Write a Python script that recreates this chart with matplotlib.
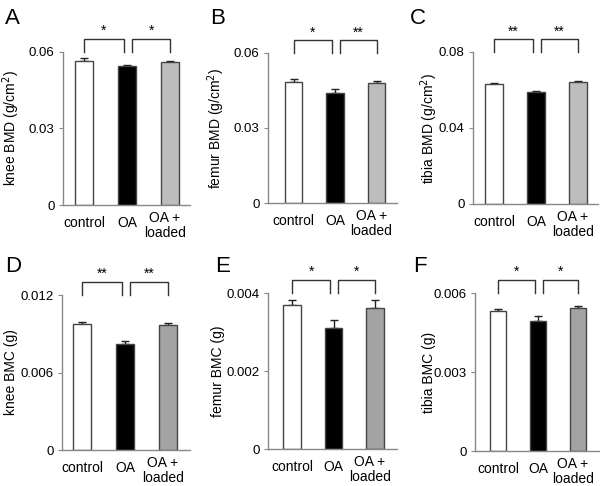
import numpy as np
import matplotlib.pyplot as plt
import matplotlib.transforms as mtransforms

plt.rcParams['font.family'] = ['Liberation Sans', 'DejaVu Sans']

groups = ['control', 'OA', 'OA +\nloaded']

# panel data: means and SEM (upper error only)
knee_bmd = [0.0566, 0.0544, 0.0561]
knee_bmd_err = [0.0009, 0.0004, 0.0003]
femur_bmd = [0.0483, 0.0441, 0.0479]
femur_bmd_err = [0.0011, 0.0013, 0.0007]
tibia_bmd = [0.0629, 0.0587, 0.0640]
tibia_bmd_err = [0.0006, 0.0006, 0.0006]
knee_bmc = [0.00975, 0.00818, 0.00965]
knee_bmc_err = [0.00019, 0.00028, 0.00018]
femur_bmc = [0.00370, 0.00311, 0.00361]
femur_bmc_err = [0.00011, 0.00020, 0.00020]
tibia_bmc = [0.00533, 0.00493, 0.00543]
tibia_bmc_err = [0.00008, 0.00020, 0.00008]

letters = ['A', 'B', 'C', 'D', 'E', 'F']
ylabels = ['knee BMD (g/cm$^2$)', 'femur BMD (g/cm$^2$)', 'tibia BMD (g/cm$^2$)',
           'knee BMC (g)', 'femur BMC (g)', 'tibia BMC (g)']
yticks = [[0, 0.03, 0.06], [0, 0.03, 0.06], [0, 0.04, 0.08],
          [0, 0.006, 0.012], [0, 0.002, 0.004], [0, 0.003, 0.006]]
ytick_labels = [['0', '0.03', '0.06'], ['0', '0.03', '0.06'], ['0', '0.04', '0.08'],
                ['0', '0.006', '0.012'], ['0', '0.002', '0.004'], ['0', '0.003', '0.006']]
stars = [['*', '*'], ['*', '**'], ['**', '**'], ['**', '**'], ['*', '*'], ['*', '*']]
means = [knee_bmd, femur_bmd, tibia_bmd, knee_bmc, femur_bmc, tibia_bmc]
errs = [knee_bmd_err, femur_bmd_err, tibia_bmd_err, knee_bmc_err, femur_bmc_err, tibia_bmc_err]

fig = plt.figure(figsize=(6, 4.86), dpi=100)
W, H = 600, 486

# layout in pixels: axis left, first bar centre, bar spacing, axis right, axis bottom, axis top
layout = [(63, 84, 43, 190, 205, 52),
          (268, 293.5, 41.5, 397, 203, 53),
          (473, 494, 42, 598, 204, 52),
          (62, 82, 43, 190, 450, 295),
          (268, 292, 41.5, 397, 449, 293),
          (475, 498, 40, 599, 451, 293)]
letter_pos = [(5, 8), (210, 8), (410, 8), (5, 256), (215, 256), (413, 256)]
ylabel_x = [11, 216, 429, 11, 218, 429]

for i in range(6):
    lx, c0, sp, rx, yb, yt = layout[i]
    ax = fig.add_axes([lx / W, 1 - yb / H, (rx - lx) / W, (yb - yt) / H])
    top = yticks[i][-1]
    x = np.arange(3)
    loaded_col = '#bdbdbd' if i < 3 else '#a3a3a3'
    ax.bar(x, means[i], width=0.41, color=['white', 'black', loaded_col],
           edgecolor='#444444', linewidth=1.0, zorder=2)
    ax.errorbar(x, means[i], yerr=[np.zeros(3), errs[i]], fmt='none',
                ecolor='#222222', elinewidth=1.0, capsize=3, capthick=1.0, zorder=1)
    ax.set_xlim(-(c0 - lx) / sp, (rx - c0) / sp)
    ax.set_ylim(0, top)
    ax.set_yticks(yticks[i])
    ax.set_yticklabels(ytick_labels[i])
    ax.set_xticks(x)
    ax.set_xticklabels(groups, va='top', linespacing=1.05)
    ax.tick_params(axis='x', length=0, pad=8, labelsize=10)
    ax.tick_params(axis='y', length=3, color='#888888', width=0.8, labelsize=9.5, pad=3)
    # two-line label sits a little left of and above the others
    lab = ax.get_xticklabels()[2]
    lab.set_transform(lab.get_transform() +
                      mtransforms.ScaledTranslation(-5 / 100, 5 / 100, fig.dpi_scale_trans))
    for s in ['top', 'right']:
        ax.spines[s].set_visible(False)
    for s in ['left', 'bottom']:
        ax.spines[s].set_color('#888888')
        ax.spines[s].set_linewidth(1.0)

    fig.text(ylabel_x[i] / W, 1 - (yb + yt) / 2 / H, ylabels[i], rotation=90,
             ha='center', va='center', fontsize=10)

    # significance brackets
    hb = top * 1.085
    for (a, b), st in zip([(0.0, 0.92), (1.12, 2.0)], stars[i]):
        ax.plot([a, a, b, b], [top, hb, hb, top], color='#333333', lw=1.0,
                clip_on=False)
        ax.text((a + b) / 2, hb + top * 0.005, st, ha='center', va='bottom',
                fontsize=10)

    fig.text(letter_pos[i][0] / W, 1 - letter_pos[i][1] / H, letters[i],
             fontsize=16, va='top', ha='left')

fig.savefig('out.png', dpi=100)
